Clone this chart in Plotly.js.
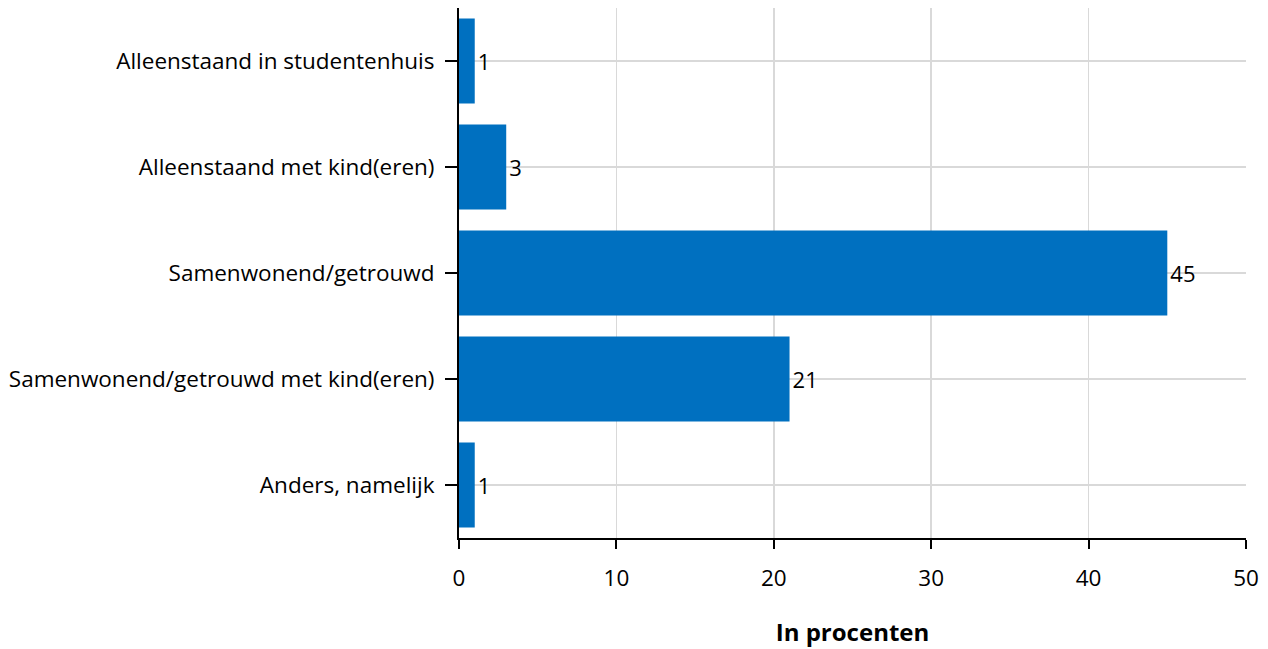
<!DOCTYPE html>
<html><head><meta charset="utf-8">
<script src="https://cdn.plot.ly/plotly-3.0.1.min.js"></script>
<style>html,body{margin:0;padding:0;background:#fff}#chart{width:1268px;height:649px}</style>
</head><body><div id="chart"></div>
<script>
var categories = ["Alleenstaand in studentenhuis","Alleenstaand met kind(eren)","Samenwonend/getrouwd","Samenwonend/getrouwd met kind(eren)","Anders, namelijk"];
var values = [1,3,45,21,1];
var xTicks = [0,10,20,30,40,50];

var trace = {
  type: 'bar', orientation: 'h',
  y: categories, x: values,
  text: values.map(String), textposition: 'outside', cliponaxis: false,
  textfont: {size: 22, color: '#000'},
  marker: {color: '#0070C0'},
  hoverinfo: 'x+y'
};
var layout = {
  width: 1268, height: 649,
  margin: {l: 459, r: 22, t: 8, b: 111},
  font: {family: '"Open Sans", "Noto Sans", sans-serif', size: 22.5, color: '#000'},
  bargap: 0.2,
  showlegend: false,
  paper_bgcolor: '#fff', plot_bgcolor: '#fff',
  xaxis: {
    range: [0, 50], tickvals: xTicks, ticktext: xTicks.map(String),
    showgrid: true, gridcolor: '#d9d9d9', gridwidth: 1.5,
    zeroline: false, showline: true, linecolor: '#000', linewidth: 2,
    ticks: 'outside', ticklen: 9, tickwidth: 2, tickcolor: '#000',
    ticklabelstandoff: 10,
    title: {text: '<b>In procenten</b>', standoff: 32, font: {size: 24}}
  },
  yaxis: {
    autorange: 'reversed',
    showgrid: true, gridcolor: '#d9d9d9', gridwidth: 1.5,
    zeroline: false, showline: true, linecolor: '#000', linewidth: 2,
    ticks: 'outside', ticklen: 12, tickwidth: 2, tickcolor: '#000',
    ticklabelstandoff: 6
  }
};
Plotly.newPlot('chart', [trace], layout, {displayModeBar: false, staticPlot: true});
</script></body></html>
